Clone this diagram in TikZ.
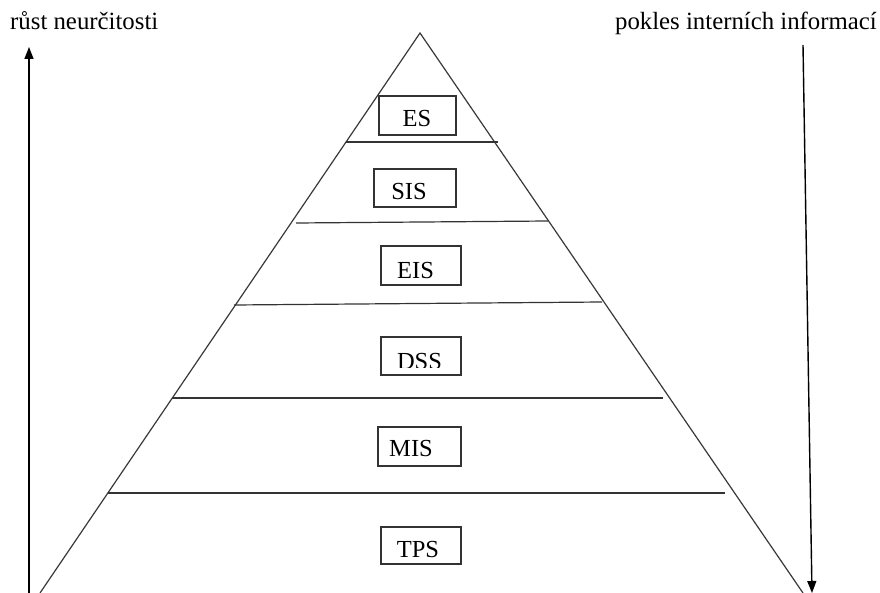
\documentclass[tikz,border=0pt]{standalone}
\usepackage{fontspec}
\setmainfont{Liberation Serif}
\usetikzlibrary{arrows.meta}
\begin{document}
\begin{tikzpicture}[x=1bp,y=-1bp,
  edge/.style={draw=black!78,line width=1.2bp},
  level/.style={draw=black!80,line width=1.2bp},
  sysbox/.style={draw=black!80,line width=1.5bp,fill=white,rectangle,inner sep=0pt},
  systext/.style={font=\fontsize{24.5bp}{28bp}\selectfont,anchor=base,inner sep=0pt},
  axis/.style={draw=black,line width=1.4bp,-{Triangle[length=12bp,width=9bp]}},
  axislabel/.style={font=\fontsize{24.8bp}{29bp}\selectfont,inner sep=0pt}]
\useasboundingbox (0,0) rectangle (880,593);

% pyramid outline
\coordinate (apex) at (420,33);
\coordinate (baseL) at (40,593);
\coordinate (baseR) at (803,593);
\begin{scope}
  \clip (0,0) rectangle (880,593);
  \draw[edge] (baseL) -- (apex) -- (baseR);
\end{scope}

% level dividers
\coordinate (l1a) at (346,142); \coordinate (l1b) at (498,142);
\coordinate (l2a) at (296,223); \coordinate (l2b) at (548,221);
\coordinate (l3a) at (234,305); \coordinate (l3b) at (602,302);
\coordinate (l4a) at (172,398); \coordinate (l4b) at (663,398);
\coordinate (l5a) at (108,493); \coordinate (l5b) at (725,493);
\draw[level] (l1a) -- (l1b);
\draw[level] (l2a) -- (l2b);
\draw[level] (l3a) -- (l3b);
\draw[level] (l4a) -- (l4b);
\draw[level] (l5a) -- (l5b);

% system boxes
\node[sysbox,minimum width=77bp,minimum height=39bp] (es)  at (417.5,115.5) {};
\node[sysbox,minimum width=82bp,minimum height=38bp] (sis) at (415,188) {};
\node[sysbox,minimum width=80bp,minimum height=39bp] (eis) at (421,265.5) {};
\node[sysbox,minimum width=80bp,minimum height=38bp] (dss) at (421,356) {};
\node[sysbox,minimum width=83bp,minimum height=39bp] (mis) at (419.5,446.5) {};
\node[sysbox,minimum width=80bp,minimum height=37bp] (tps) at (421,545.5) {};

\node[systext] (estext)  at (417,127) {ES};
\node[systext] (sistext) at (409,200) {SIS};
\node[systext] (eistext) at (415.5,278) {EIS};
\begin{scope}
  \clip (382,338) rectangle (460,367);
  \node[systext] (dsstext) at (419.5,369) {DSS};
\end{scope}
\node[systext] (mistext) at (411,456) {MIS};
\node[systext] (tpstext) at (418,557) {TPS};

% axes
\coordinate (upfrom) at (29,593);
\coordinate (upto) at (29,47);
\coordinate (downfrom) at (803,45);
\coordinate (downto) at (812,593);
\draw[axis] (upfrom) -- (upto);
\draw[axis] (downfrom) -- (downto);

\node[axislabel,anchor=base west] (uncert) at (10,30) {růst neurčitosti};
\node[axislabel,anchor=base east] (internal) at (877,30) {pokles interních informací};
\end{tikzpicture}
\end{document}
